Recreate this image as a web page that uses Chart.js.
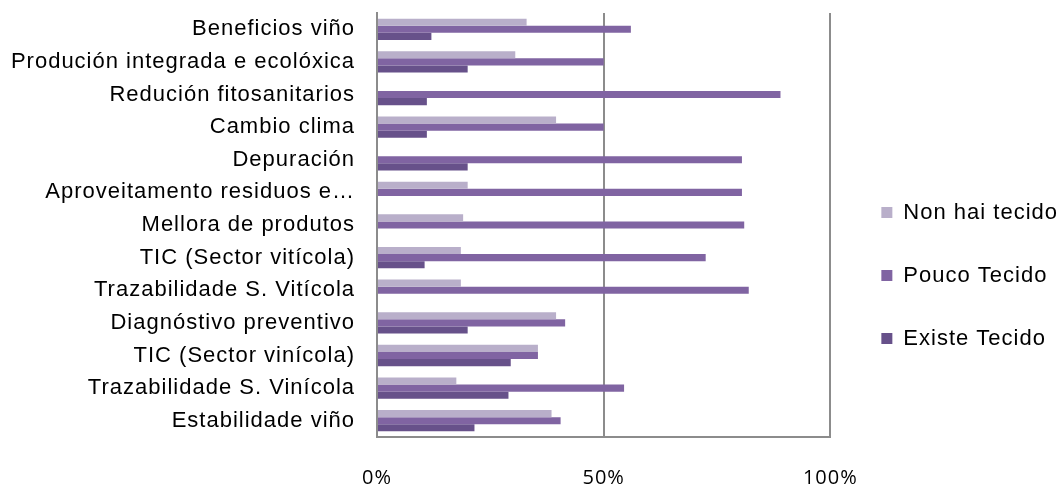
<!DOCTYPE html>
<html>
<head>
<meta charset="utf-8">
<script src="https://cdn.jsdelivr.net/npm/chart.js@4"></script>
<style>
  html, body { margin: 0; padding: 0; background: #fff; }
  #wrap { width: 1060px; height: 486px; }
</style>
</head>
<body>
<div id="wrap"><canvas id="myChart"></canvas></div>
<script>
// categorias (de arriba a abaixo)
const categorias = [
  "Beneficios viño",
  "Produción integrada e ecolóxica",
  "Redución fitosanitarios",
  "Cambio clima",
  "Depuración",
  "Aproveitamento residuos e…",
  "Mellora de produtos",
  "TIC (Sector vitícola)",
  "Trazabilidade S. Vitícola",
  "Diagnóstivo preventivo",
  "TIC (Sector vinícola)",
  "Trazabilidade S. Vinícola",
  "Estabilidade viño"
];

// valores en %
const nonHaiTecido = [33, 30.5, 0, 39.5, 0, 20, 19, 18.5, 18.5, 39.5, 35.5, 17.5, 38.5];
const poucoTecido = [56, 50, 89, 50, 80.5, 80.5, 81, 72.5, 82, 41.5, 35.5, 54.5, 40.5];
const existeTecido = [12, 20, 11, 11, 20, 0, 0, 10.5, 0, 20, 29.5, 29, 21.5];

const ticksX = [0, 50, 100];

const ctx = document.getElementById("myChart");

const gris = "#8c8c8c";

// espaciado de letras como no orixinal + mover a lenda
const axustes = {
  id: "axustes",
  beforeLayout(chart) { chart.ctx.letterSpacing = "1px"; },
  afterLayout(chart) {
    chart.legend.top += 26;
    chart.legend.bottom += 26;
    chart.legend.left += 10;
    chart.legend.right += 10;
  },
  beforeDraw(chart) { chart.ctx.letterSpacing = "1px"; }
};

const chart = new Chart(ctx, {
  type: "bar",
  data: {
    labels: categorias,
    datasets: [
      { label: "Non hai tecido", data: nonHaiTecido, backgroundColor: "#b9afca" },
      { label: "Pouco Tecido", data: poucoTecido, backgroundColor: "#8064a2" },
      { label: "Existe Tecido", data: existeTecido, backgroundColor: "#67518a" }
    ]
  },
  options: {
    indexAxis: "y",
    responsive: true,
    maintainAspectRatio: false,
    animation: false,
    datasets: {
      bar: { categoryPercentage: 0.655, barPercentage: 1, borderWidth: 0 }
    },
    layout: { padding: { top: 13, left: 0, right: 2, bottom: 0 } },
    plugins: {
      tooltip: { enabled: false },
      legend: {
        position: "right",
        labels: {
          boxWidth: 11,
          boxHeight: 11,
          padding: 41,
          color: "#000",
          font: { family: "Liberation Sans", size: 22 }
        }
      }
    },
    scales: {
      x: {
        min: 0,
        max: 100,
        afterBuildTicks(scale) {
          scale.ticks = ticksX.map(v => ({ value: v }));
        },
        afterFit(scale) { scale.height = 49; },
        grid: { color: gris, lineWidth: 2, drawTicks: false },
        border: { display: true, color: gris, width: 2 },
        ticks: {
          padding: 29,
          color: "#000",
          font: { family: "Open Sans", size: 20 },
          callback: v => v + "%"
        }
      },
      y: {
        afterFit(scale) {
          scale.width = 377;
          scale.paddingTop = 0;
          scale.paddingBottom = 0;
        },
        grid: { display: false, drawTicks: false },
        border: { display: true, color: gris, width: 2 },
        ticks: {
          padding: 22,
          color: "#000",
          font: { family: "Liberation Sans", size: 22 }
        }
      }
    }
  },
  plugins: [axustes]
});
</script>
</body>
</html>
